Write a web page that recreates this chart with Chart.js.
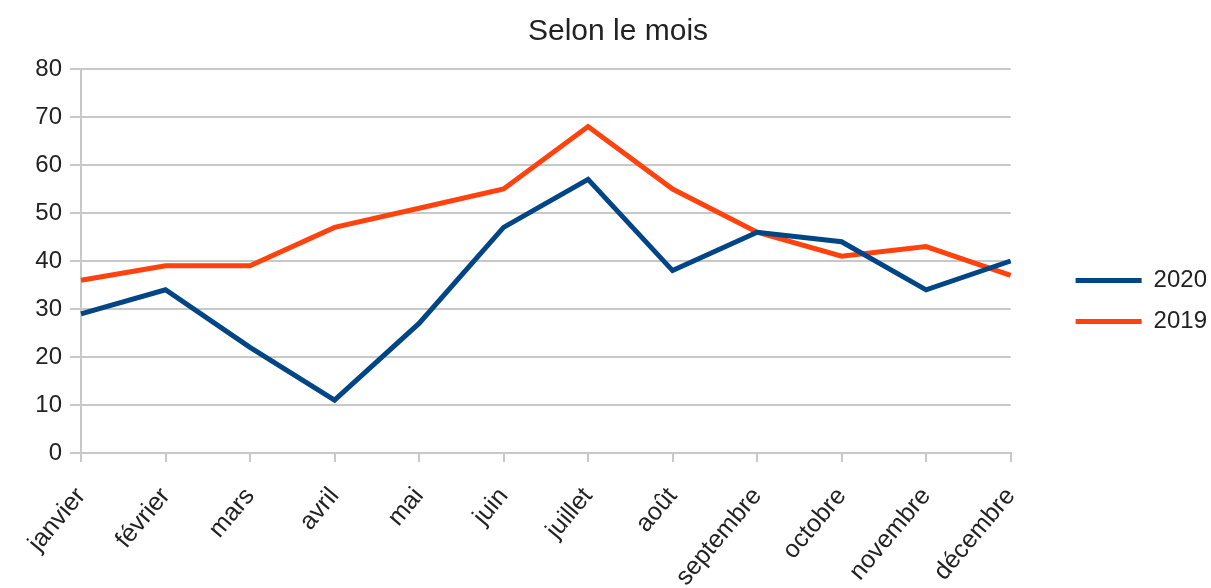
<!DOCTYPE html>
<html>
<head>
<meta charset="utf-8">
<script src="https://cdn.jsdelivr.net/npm/chart.js@4/dist/chart.umd.min.js"></script>
<style>
  html, body { margin: 0; padding: 0; background: #fff; }
  #wrap { width: 1211px; height: 588px; }
</style>
</head>
<body>
<div id="wrap"><canvas id="chart-month"></canvas></div>
<script>
// 라벨
const monthLabels = ["janvier", "février", "mars", "avril", "mai", "juin", "juillet", "août", "septembre", "octobre", "novembre", "décembre"];
const yTicks = [0, 10, 20, 30, 40, 50, 60, 70, 80];

// 데이터
const data2020 = [29, 34, 22, 11, 27, 47, 57, 38, 46, 44, 34, 40];
const data2019 = [36, 39, 39, 47, 51, 55, 68, 55, 46, 41, 43, 37];

const ds2020 = {
    label: '2020',
    data: data2020,
    borderColor: '#004586',
    backgroundColor: '#004586',
    borderWidth: 5,
    pointRadius: 0,
    tension: 0
};

const ds2019 = {
    label: '2019',
    data: data2019,
    borderColor: '#ff420e',
    backgroundColor: '#ff420e',
    borderWidth: 5,
    pointRadius: 0,
    tension: 0
};

// 범례와 차트 사이 간격
const LEGEND_EXTRA = 37;
const LEGEND_SHIFT_X = 48;
const LEGEND_SHIFT_Y = 5;
const legendGap = {
    id: 'legendGap',
    beforeUpdate(chart) {
        const lg = chart.legend;
        if (lg && !lg._gapPatched) {
            const origFit = lg.fit;
            lg.fit = function () {
                origFit.call(this);
                this.width += LEGEND_EXTRA;
            };
            lg._gapPatched = true;
        }
    },
    afterLayout(chart) {
        const lg = chart.legend;
        if (!lg) return;
        lg.left += LEGEND_SHIFT_X;
        lg.top += LEGEND_SHIFT_Y;
        lg.bottom += LEGEND_SHIFT_Y;
    }
};

const config_line = {
    type: 'line',
    data: {
        labels: monthLabels,
        datasets: [ds2020, ds2019]
    },
    plugins: [legendGap],
    options: {
        responsive: true,
        maintainAspectRatio: false,
        animation: false,
        layout: {
            padding: { left: 30, right: 5, top: 4, bottom: 0 }
        },
        scales: {
            x: {
                offset: false,
                afterFit: function (axis) {
                    axis.height = 135;
                },
                grid: {
                    display: true,
                    drawOnChartArea: false,
                    drawTicks: true,
                    tickLength: 9,
                    color: '#c8c8c8',
                    lineWidth: 2
                },
                border: { color: '#c8c8c8', width: 2 },
                ticks: {
                    color: '#222',
                    autoSkip: false,
                    minRotation: 50,
                    maxRotation: 50,
                    padding: 20,
                    font: { family: 'Liberation Sans', size: 25 }
                }
            },
            y: {
                min: yTicks[0],
                max: yTicks[yTicks.length - 1],
                afterBuildTicks: function (axis) {
                    axis.ticks = yTicks.map(v => ({ value: v }));
                },
                afterFit: function (axis) {
                    axis.width = 51;
                },
                grid: {
                    color: '#c8c8c8',
                    lineWidth: 2,
                    tickLength: 11
                },
                border: { color: '#c8c8c8', width: 2 },
                ticks: {
                    color: '#222',
                    padding: 8,
                    font: { family: 'Liberation Sans', size: 24 }
                }
            }
        },
        plugins: {
            title: {
                display: true,
                text: 'Selon le mois',
                color: '#222',
                font: { family: 'Liberation Sans', size: 30, weight: 'normal' },
                padding: { top: 10, bottom: 19 }
            },
            legend: {
                display: true,
                position: 'right',
                labels: {
                    usePointStyle: true,
                    pointStyle: 'line',
                    pointStyleWidth: 66,
                    color: '#222',
                    padding: 17,
                    font: { family: 'Liberation Sans', size: 24 }
                }
            },
            tooltip: { enabled: false }
        }
    }
};

const monthChart = new Chart(document.getElementById("chart-month"), config_line);
</script>
</body>
</html>
